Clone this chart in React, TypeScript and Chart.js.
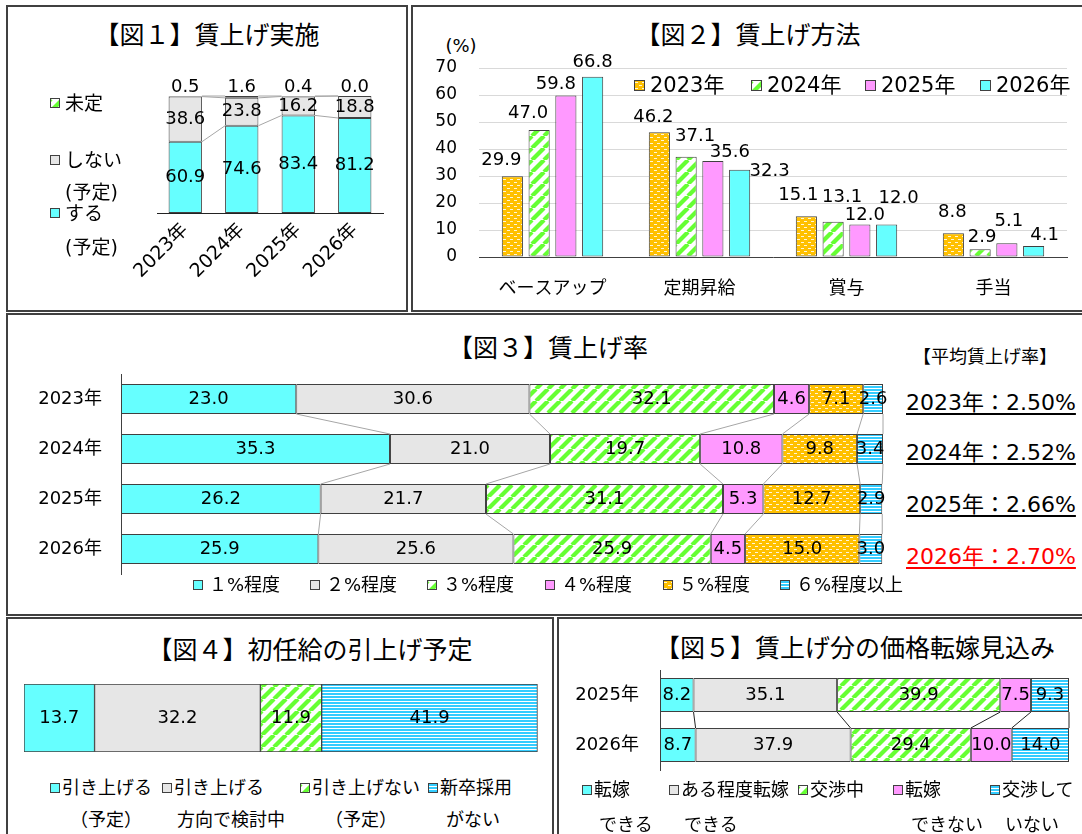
import React, { useEffect, useRef } from "react";
import { Chart, registerables } from "chart.js";

Chart.register(...registerables);

const FONT = '"DejaVu Sans", "Noto Sans CJK JP", sans-serif';
Chart.defaults.font.family = FONT;
Chart.defaults.color = "#000";

// ---------------- DATA ----------------
// Fig.1 賃上げ実施
const fig1Categories = ["2023年", "2024年", "2025年", "2026年"];
const fig1Series = ["する（予定）", "しない（予定）", "未定"];
const fig1Yes = [60.9, 74.6, 83.4, 81.2];
const fig1No = [38.6, 23.8, 16.2, 18.8];
const fig1Undecided = [0.5, 1.6, 0.4, 0.0];

// Fig.2 賃上げ方法
const fig2Categories = ["ベースアップ", "定期昇給", "賞与", "手当"];
const fig2Series = ["2023年", "2024年", "2025年", "2026年"];
const fig2Y2023 = [29.9, 46.2, 15.1, 8.8];
const fig2Y2024 = [47.0, 37.1, 13.1, 2.9];
const fig2Y2025 = [59.8, 35.6, 12.0, 5.1];
const fig2Y2026 = [66.8, 32.3, 12.0, 4.1];
const fig2AxisMin = 0;
const fig2AxisMax = 70;
const fig2AxisStep = 10;

// Fig.3 賃上げ率
const fig3Categories = ["2023年", "2024年", "2025年", "2026年"];
const fig3Series = ["１%程度", "２%程度", "３%程度", "４%程度", "５%程度", "６%程度以上"];
const fig3Pct1 = [23.0, 35.3, 26.2, 25.9];
const fig3Pct2 = [30.6, 21.0, 21.7, 25.6];
const fig3Pct3 = [32.1, 19.7, 31.1, 25.9];
const fig3Pct4 = [4.6, 10.8, 5.3, 4.5];
const fig3Pct5 = [7.1, 9.8, 12.7, 15.0];
const fig3Pct6 = [2.6, 3.4, 2.9, 3.0];
const fig3AverageTitle = "【平均賃上げ率】";
const fig3AverageRates = ["2.50%", "2.52%", "2.66%", "2.70%"];

// Fig.4 初任給の引上げ予定
const fig4Series = [
  ["引き上げる", "（予定）"],
  ["引き上げる", "方向で検討中"],
  ["引き上げない", "（予定）"],
  ["新卒採用", "がない"],
];
const fig4Values = [13.7, 32.2, 11.9, 41.9];

// Fig.5 賃上げ分の価格転嫁見込み
const fig5Categories = ["2025年", "2026年"];
const fig5Series = [
  ["転嫁", "できる"],
  ["ある程度転嫁", "できる"],
  ["交渉中", ""],
  ["転嫁", "できない"],
  ["交渉して", "いない"],
];
const fig5Full = [8.2, 8.7];
const fig5Partial = [35.1, 37.9];
const fig5Negotiating = [39.9, 29.4];
const fig5Cannot = [7.5, 10.0];
const fig5NotNegotiating = [9.3, 14.0];

// ---------------- STYLE ----------------
const SOLID: Record<string, string> = { cyan: "#66FFFF", gray: "#E6E6E6", pink: "#FF99FF" };
const GREEN = "#66FF33";
const ORANGE = "#FFC000";
const BLUE = "#33CCFF";
const EDGE = "#404040";

const fig1Kinds = ["cyan", "gray", "stripe"];
const fig2Kinds = ["dots", "stripe", "pink", "cyan"];
const fig3Kinds = ["cyan", "gray", "stripe", "pink", "dots", "hline"];
const fig4Kinds = ["cyan", "gray", "stripe", "hline"];
const fig5Kinds = ["cyan", "gray", "stripe", "pink", "hline"];

// label nudges (dx, dy from bar top) for fig.2, per series / category
const fig2LabelShift = [
  [[-11, -16], [-6, -15], [-8, -21], [-1, -21]],
  [[-11, -17], [9, -21], [9, -24], [2, -12]],
  [[-10, -11], [17, -9], [5, -9], [2, -22]],
  [[0, -14], [30, 2], [12, -26], [11, -11]],
];

const tileCache: Record<string, HTMLCanvasElement> = {};
function tileCanvas(kind: string): HTMLCanvasElement {
  if (tileCache[kind]) return tileCache[kind];
  const c = document.createElement("canvas");
  if (kind === "stripe") {
    const n = 12;
    c.width = n;
    c.height = n;
    const g = c.getContext("2d")!;
    g.fillStyle = "#fff";
    g.fillRect(0, 0, n, n);
    g.strokeStyle = GREEN;
    g.lineWidth = 4.2;
    for (const k of [-n, 0, n]) {
      g.beginPath();
      g.moveTo(k, n);
      g.lineTo(k + n, 0);
      g.stroke();
    }
  } else if (kind === "dots") {
    c.width = 7;
    c.height = 6;
    const g = c.getContext("2d")!;
    g.fillStyle = ORANGE;
    g.fillRect(0, 0, 7, 6);
    g.fillStyle = "#FFF6DA";
    g.fillRect(0, 1, 3, 1);
    g.fillRect(4, 4, 3, 1);
  } else if (kind === "hline") {
    c.width = 4;
    c.height = 3;
    const g = c.getContext("2d")!;
    g.fillStyle = BLUE;
    g.fillRect(0, 0, 4, 2);
    g.fillStyle = "#fff";
    g.fillRect(0, 2, 4, 1);
  } else {
    c.width = 2;
    c.height = 2;
    const g = c.getContext("2d")!;
    g.fillStyle = SOLID[kind] || "#000";
    g.fillRect(0, 0, 2, 2);
  }
  tileCache[kind] = c;
  return c;
}

type Fill = (k: string) => any;

// ---------------- PLUGINS ----------------
function valueLabels(size: number, place: (p: any, di: number, i: number) => number[]) {
  return {
    id: "valueLabels",
    afterDatasetsDraw(chart: any) {
      const ctx = chart.ctx;
      ctx.save();
      ctx.font = `${size}px ${FONT}`;
      ctx.fillStyle = "#000";
      ctx.textAlign = "center";
      ctx.textBaseline = "middle";
      chart.data.datasets.forEach((ds: any, di: number) => {
        chart.getDatasetMeta(di).data.forEach((el: any, i: number) => {
          const p = el.getProps(["x", "y", "base", "width", "height"], true);
          const [tx, ty] = place(p, di, i);
          ctx.fillText(Number(ds.data[i]).toFixed(1), tx, ty);
        });
      });
      ctx.restore();
    },
  };
}

function seriesLines(color: string) {
  return {
    id: "seriesLines",
    afterDatasetsDraw(chart: any) {
      const ctx = chart.ctx;
      const horiz = chart.options.indexAxis === "y";
      ctx.save();
      ctx.strokeStyle = color;
      ctx.lineWidth = 1;
      chart.data.datasets.forEach((_ds: any, di: number) => {
        const els = chart.getDatasetMeta(di).data;
        for (let i = 0; i < els.length - 1; i++) {
          const a = els[i].getProps(["x", "y", "base", "width", "height"], true);
          const b = els[i + 1].getProps(["x", "y", "base", "width", "height"], true);
          ctx.beginPath();
          if (horiz) {
            ctx.moveTo(a.x, a.y + a.height / 2);
            ctx.lineTo(b.x, b.y - b.height / 2);
          } else {
            ctx.moveTo(a.x + a.width / 2, a.y);
            ctx.lineTo(b.x - b.width / 2, b.y);
          }
          ctx.stroke();
        }
      });
      ctx.restore();
    },
  };
}

const zeroPad = (s: any) => {
  s.paddingLeft = 0;
  s.paddingRight = 0;
  s.paddingTop = 0;
  s.paddingBottom = 0;
};
const fixH = (h: number) => (s: any) => {
  s.height = h;
  zeroPad(s);
};
const fixW = (w: number) => (s: any) => {
  s.width = w;
  zeroPad(s);
};

const base = {
  responsive: false,
  maintainAspectRatio: false,
  animation: false,
  devicePixelRatio: 1,
  events: [],
};
const noPlugins = { legend: { display: false }, title: { display: false }, tooltip: { enabled: false } };

function barDs(label: string, data: number[], kind: string, fill: Fill) {
  return {
    label,
    data,
    backgroundColor: fill(kind),
    borderColor: EDGE,
    borderWidth: 1,
    borderSkipped: false,
  };
}

// ---------------- CHART CONFIGS ----------------
const fig1Config = (fill: Fill) => ({
  type: "bar",
  data: {
    labels: fig1Categories,
    datasets: [
      barDs(fig1Series[0], fig1Yes, fig1Kinds[0], fill),
      barDs(fig1Series[1], fig1No, fig1Kinds[1], fill),
      barDs(fig1Series[2], fig1Undecided, fig1Kinds[2], fill),
    ],
  },
  options: {
    ...base,
    layout: { padding: { left: 57, top: 36, right: 17, bottom: 7 } },
    datasets: { bar: { barPercentage: 0.59, categoryPercentage: 1 } },
    plugins: noPlugins,
    scales: {
      x: {
        stacked: true,
        grid: { display: false, drawTicks: false },
        border: { display: true, color: "#222", width: 1 },
        ticks: { font: { size: 19 }, color: "#000", minRotation: 45, maxRotation: 45, padding: 6 },
        afterFit: fixH(90),
      },
      y: { stacked: true, display: false, min: 0, max: 100 },
    },
  },
  plugins: [
    seriesLines("#A6A6A6"),
    valueLabels(18, (p, di) => (di === 2 ? [p.x, p.y - 9] : [p.x, (p.y + p.base) / 2])),
  ],
});

const fig2Config = (fill: Fill) => ({
  type: "bar",
  data: {
    labels: fig2Categories,
    datasets: [
      barDs(fig2Series[0], fig2Y2023, fig2Kinds[0], fill),
      barDs(fig2Series[1], fig2Y2024, fig2Kinds[1], fill),
      barDs(fig2Series[2], fig2Y2025, fig2Kinds[2], fill),
      barDs(fig2Series[3], fig2Y2026, fig2Kinds[3], fill),
    ],
  },
  options: {
    ...base,
    layout: { padding: { left: 0, top: 28, right: 15, bottom: 0 } },
    datasets: { bar: { barPercentage: 0.79, categoryPercentage: 0.728 } },
    plugins: noPlugins,
    scales: {
      x: {
        grid: { display: false, drawTicks: false },
        border: { display: true, color: "#404040", width: 1 },
        ticks: { font: { size: 18 }, color: "#000", padding: 22, maxRotation: 0 },
        afterFit: fixH(54),
      },
      y: {
        min: fig2AxisMin,
        max: fig2AxisMax,
        ticks: { stepSize: fig2AxisStep, font: { size: 17 }, color: "#000", padding: 22 },
        grid: {
          drawTicks: false,
          color: (c: any) => (c.tick && c.tick.value === 0 ? "rgba(0,0,0,0)" : "#D9D9D9"),
          lineWidth: 1,
        },
        border: { display: false },
        afterFit: fixW(67),
      },
    },
  },
  plugins: [
    valueLabels(18, (p, di, i) => [p.x + fig2LabelShift[di][i][0], p.y + fig2LabelShift[di][i][1]]),
  ],
});

const fig3Config = (fill: Fill) => {
  const values = [fig3Pct1, fig3Pct2, fig3Pct3, fig3Pct4, fig3Pct5, fig3Pct6];
  return {
    type: "bar",
    data: {
      labels: fig3Categories,
      datasets: values.map((v, k) => barDs(fig3Series[k], v, fig3Kinds[k], fill)),
    },
    options: {
      ...base,
      indexAxis: "y",
      layout: { padding: { left: 0, top: 9, right: 17, bottom: 11 } },
      datasets: { bar: { barPercentage: 0.6, categoryPercentage: 1 } },
      plugins: noPlugins,
      scales: {
        x: { stacked: true, display: false, min: 0, max: 100 },
        y: {
          stacked: true,
          grid: { display: false, drawTicks: false },
          border: { display: true, color: "#404040", width: 1 },
          ticks: { font: { size: 18 }, color: "#000", padding: 19 },
          afterFit: fixW(101),
        },
      },
    },
    plugins: [seriesLines("#A6A6A6"), valueLabels(18, (p) => [(p.x + p.base) / 2, p.y])],
  };
};

const fig4Config = (fill: Fill) => ({
  type: "bar",
  data: {
    labels: [""],
    datasets: fig4Values.map((v, k) => barDs(fig4Series[k].join(""), [v], fig4Kinds[k], fill)),
  },
  options: {
    ...base,
    indexAxis: "y",
    layout: { padding: { left: 14, top: 9, right: 11, bottom: 8 } },
    datasets: { bar: { barPercentage: 1, categoryPercentage: 1 } },
    plugins: noPlugins,
    scales: {
      x: { stacked: true, display: false, min: 0, max: 100 },
      y: { stacked: true, display: false },
    },
  },
  plugins: [valueLabels(18, (p) => [(p.x + p.base) / 2, p.y])],
});

const fig5Config = (fill: Fill) => {
  const values = [fig5Full, fig5Partial, fig5Negotiating, fig5Cannot, fig5NotNegotiating];
  return {
    type: "bar",
    data: {
      labels: fig5Categories,
      datasets: values.map((v, k) => barDs(fig5Series[k].join(""), v, fig5Kinds[k], fill)),
    },
    options: {
      ...base,
      indexAxis: "y",
      layout: { padding: { left: 0, top: 8, right: 11, bottom: 10 } },
      datasets: { bar: { barPercentage: 0.68, categoryPercentage: 1 } },
      plugins: noPlugins,
      scales: {
        x: { stacked: true, display: false, min: 0, max: 100 },
        y: {
          stacked: true,
          grid: { display: false, drawTicks: false },
          border: { display: true, color: "#404040", width: 1 },
          ticks: { font: { size: 18 }, color: "#000", padding: 21 },
          afterFit: fixW(95),
        },
      },
    },
    plugins: [seriesLines("#222"), valueLabels(18, (p) => [(p.x + p.base) / 2, p.y])],
  };
};

// ---------------- COMPONENTS ----------------
function ChartCanvas({ x, y, w, h, make }: { x: number; y: number; w: number; h: number; make: (f: Fill) => any }) {
  const ref = useRef<HTMLCanvasElement | null>(null);
  useEffect(() => {
    const cv = ref.current!;
    const ctx = cv.getContext("2d")!;
    const fill: Fill = (k) => SOLID[k] ?? ctx.createPattern(tileCanvas(k), "repeat");
    const chart = new Chart(cv, make(fill));
    return () => chart.destroy();
  }, []);
  return (
    <canvas
      ref={ref}
      width={w}
      height={h}
      style={{ position: "absolute", left: x, top: y, width: w, height: h }}
    />
  );
}

function T({
  x,
  y,
  s,
  a = "left",
  c = "#000",
  u = false,
  children,
}: {
  x: number;
  y: number;
  s: number;
  a?: string;
  c?: string;
  u?: boolean;
  children: any;
}) {
  return (
    <div
      style={{
        position: "absolute",
        left: x,
        top: y,
        fontSize: s,
        lineHeight: 1,
        whiteSpace: "nowrap",
        color: c,
        textDecoration: u ? "underline" : "none",
        textUnderlineOffset: 3,
        transform: `translate(${a === "center" ? "-50%" : "0"}, -50%)`,
        fontFamily: FONT,
      }}
    >
      {children}
    </div>
  );
}

function Sw({ x, y, k, s = 10 }: { x: number; y: number; k: string; s?: number }) {
  const bg = SOLID[k] ? SOLID[k] : `url(${tileCanvas(k).toDataURL()})`;
  return (
    <div
      style={{
        position: "absolute",
        left: x,
        top: y - s / 2,
        width: s,
        height: s,
        boxSizing: "border-box",
        border: "1px solid #404040",
        background: bg,
      }}
    />
  );
}

function Frame({ x, y, w, h }: { x: number; y: number; w: number; h: number }) {
  return (
    <div
      style={{
        position: "absolute",
        left: x,
        top: y,
        width: w,
        height: h,
        boxSizing: "border-box",
        border: "2px solid #404040",
      }}
    />
  );
}

export default function App() {
  const fig2LegendX = [634, 751, 865, 980];
  const fig3LegendX = [193, 310, 427, 545, 663, 780];
  const fig4LegendX = [50, 162, 300, 428];
  const fig4Line2X = [70, 177, 325, 446];
  const fig5LegendX = [582, 669, 798, 893, 990];
  const fig5Line2X = [599, 684, 0, 911, 1005];
  const avgY = [403, 453, 505, 557];

  return (
    <div
      style={{
        position: "fixed",
        left: 0,
        top: 0,
        width: 1082,
        height: 834,
        overflow: "hidden",
        background: "#fff",
        fontFamily: FONT,
      }}
    >
      <Frame x={6} y={5} w={402} h={307} />
      <Frame x={411} y={5} w={700} h={307} />
      <Frame x={6} y={313} w={1100} h={303} />
      <Frame x={6} y={617} w={548} h={240} />
      <Frame x={557} y={617} w={540} h={240} />

      {/* Fig 1 */}
      <T x={207} y={35} s={25} a="center">【図１】賃上げ実施</T>
      <ChartCanvas x={100} y={60} w={300} h={250} make={fig1Config} />
      <Sw x={50} y={103} k={fig1Kinds[2]} />
      <T x={65} y={103} s={19}>{fig1Series[2]}</T>
      <Sw x={50} y={160} k={fig1Kinds[1]} />
      <T x={65} y={160} s={19}>しない</T>
      <T x={65} y={192} s={19}>(予定)</T>
      <Sw x={50} y={213} k={fig1Kinds[0]} />
      <T x={65} y={213} s={19}>する</T>
      <T x={65} y={247} s={19}>(予定)</T>

      {/* Fig 2 */}
      <T x={748} y={35} s={25} a="center">【図２】賃上げ方法</T>
      <T x={461} y={46} s={18} a="center">(%)</T>
      <ChartCanvas x={412} y={40} w={670} h={271} make={fig2Config} />
      {fig2Series.map((s, k) => (
        <React.Fragment key={s}>
          <Sw x={fig2LegendX[k]} y={85} k={fig2Kinds[k]} s={11} />
          <T x={fig2LegendX[k] + 16} y={85} s={21}>{s}</T>
        </React.Fragment>
      ))}

      {/* Fig 3 */}
      <T x={548} y={348} s={25} a="center">【図３】賃上げ率</T>
      <T x={985} y={357} s={18} a="center">{fig3AverageTitle}</T>
      <ChartCanvas x={20} y={365} w={880} h={220} make={fig3Config} />
      {fig3Series.map((s, k) => (
        <React.Fragment key={s}>
          <Sw x={fig3LegendX[k]} y={585} k={fig3Kinds[k]} />
          <T x={fig3LegendX[k] + 16} y={585} s={18}>{s}</T>
        </React.Fragment>
      ))}
      {fig3Categories.map((c, k) => (
        <T
          key={c}
          x={906}
          y={avgY[k]}
          s={22}
          u
          c={k === fig3Categories.length - 1 ? "#FF0000" : "#000"}
        >
          {`${c}：${fig3AverageRates[k]}`}
        </T>
      ))}

      {/* Fig 4 */}
      <T x={310} y={650} s={25} a="center">【図４】初任給の引上げ予定</T>
      <ChartCanvas x={10} y={675} w={540} h={85} make={fig4Config} />
      {fig4Series.map((s, k) => (
        <React.Fragment key={k}>
          <Sw x={fig4LegendX[k]} y={788} k={fig4Kinds[k]} />
          <T x={fig4LegendX[k] + 12} y={788} s={18}>{s[0]}</T>
          <T x={fig4Line2X[k]} y={820} s={18}>{s[1]}</T>
        </React.Fragment>
      ))}

      {/* Fig 5 */}
      <T x={855} y={648} s={25} a="center">【図５】賃上げ分の価格転嫁見込み</T>
      <ChartCanvas x={565} y={662} w={515} h={118} make={fig5Config} />
      {fig5Series.map((s, k) => (
        <React.Fragment key={k}>
          <Sw x={fig5LegendX[k]} y={790} k={fig5Kinds[k]} />
          <T x={fig5LegendX[k] + 12} y={790} s={18}>{s[0]}</T>
          {s[1] ? <T x={fig5Line2X[k]} y={825} s={18}>{s[1]}</T> : null}
        </React.Fragment>
      ))}
    </div>
  );
}
